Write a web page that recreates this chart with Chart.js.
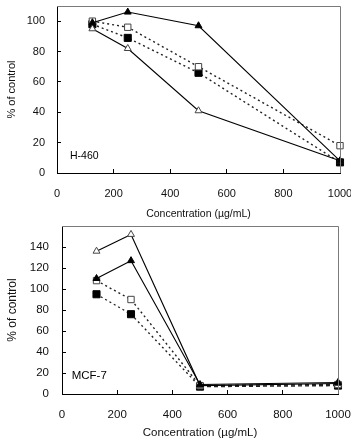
<!DOCTYPE html>
<html>
<head>
<meta charset="utf-8">
<script src="https://cdn.jsdelivr.net/npm/chart.js@4"></script>
<style>
  html, body { margin: 0; padding: 0; background: #fff; }
  .box { position: absolute; left: 0; width: 351px; }
  #top { top: 0; height: 220px; }
  #bot { top: 220px; height: 223px; }
</style>
</head>
<body>
<div class="box" id="top"><canvas id="h460"></canvas></div>
<div class="box" id="bot"><canvas id="mcf7"></canvas></div>
<script>
// concentrations (µg/mL)
const conc = [125, 250, 500, 1000];

// H-460 (% of control)
const h460FilledTri = [99, 106, 97, 8];
const h460OpenTri   = [95, 82, 41, 8];
const h460OpenSq    = [100, 96, 70, 18];
const h460FilledSq  = [98, 89, 66, 7];

// MCF-7 (% of control)
const mcfFilledTri = [110, 127, 9, 11];
const mcfOpenTri   = [136, 152, 8, 10];
const mcfOpenSq    = [108, 90, 8, 9];
const mcfFilledSq  = [95, 76, 7, 8];

const FONT = "'Liberation Sans', Arial, sans-serif";

// grey frame on top / right of plot area
const framePlugin = {
  id: 'frame',
  afterDraw(chart) {
    const { ctx, chartArea: a } = chart;
    ctx.save();
    ctx.strokeStyle = '#7a7a7a';
    ctx.lineWidth = 1;
    ctx.beginPath();
    ctx.moveTo(a.left, a.top + 0.5);
    ctx.lineTo(a.right + 0.5, a.top + 0.5);
    ctx.lineTo(a.right + 0.5, a.bottom);
    ctx.stroke();
    ctx.restore();
  }
};

// cell line label inside the plot
const tagPlugin = {
  id: 'tag',
  afterDraw(chart, args, opts) {
    const { ctx, scales } = chart;
    ctx.save();
    ctx.font = opts.size + 'px ' + FONT;
    ctx.fillStyle = '#000';
    ctx.textBaseline = 'middle';
    ctx.fillText(opts.text, scales.x.getPixelForValue(opts.x), scales.y.getPixelForValue(opts.y));
    ctx.restore();
  }
};

function ds(data, style, filled, dotted, r, tailDash) {
  const d = {
    data: conc.map((c, i) => ({ x: c, y: data[i] })),
    borderColor: dotted ? '#222' : '#000',
    borderWidth: dotted ? 1.4 : 1.1,
    borderDash: dotted ? [2, 3] : [],
    pointStyle: style,
    pointRadius: r,
    pointBackgroundColor: filled ? '#000' : '#fff',
    pointBorderColor: filled ? '#000' : '#444',
    pointBorderWidth: 1,
    clip: false,
    tension: 0
  };
  // last segment drawn dashed instead of dotted
  if (tailDash) d.segment = { borderDash: c => c.p0.parsed.x >= 500 ? [4, 3] : undefined };
  return d;
}

function noPad(s) {
  s.paddingTop = 0; s.paddingBottom = 0;
  s.paddingLeft = 0; s.paddingRight = 0;
}

function makeChart(id, sets, o) {
  return new Chart(document.getElementById(id), {
    type: 'line',
    data: { datasets: sets },
    plugins: [framePlugin, tagPlugin],
    options: {
      responsive: true,
      maintainAspectRatio: false,
      animation: false,
      layout: { padding: { left: 0, top: 6, right: o.right, bottom: 0 } },
      plugins: {
        legend: { display: false },
        tooltip: { enabled: false },
        tag: o.tag
      },
      scales: {
        x: {
          type: 'linear',
          min: 0, max: 1000,
          ticks: {
            stepSize: 200, color: '#111', padding: 18,
            font: { family: FONT, size: o.tick },
            callback: v => String(v)
          },
          grid: { drawOnChartArea: false, tickLength: -4, color: '#000' },
          border: { color: '#000' },
          title: { display: true, text: 'Concentration (µg/mL)', color: '#111', padding: o.xPad, font: { family: FONT, size: o.title } },
          afterFit: s => { s.height = o.xH; noPad(s); }
        },
        y: {
          min: 0, max: o.ymax,
          ticks: {
            stepSize: 10, color: '#111', padding: o.yPad,
            font: { family: FONT, size: o.tick },
            callback: v => (v % 20 === 0 && v <= o.ylab) ? String(v) : ''
          },
          grid: { drawOnChartArea: false, tickLength: -4, color: '#000' },
          border: { color: '#000' },
          title: { display: true, text: '% of control', color: '#111', padding: { top: 5, bottom: 0 }, font: { family: FONT, size: o.ytitle } },
          afterFit: s => { s.width = o.yW; noPad(s); }
        }
      }
    }
  });
}

makeChart('h460', [
  ds(h460FilledTri, 'triangle', true, false, 4),
  ds(h460OpenTri, 'triangle', false, false, 4),
  ds(h460OpenSq, 'rect', false, true, 4.5),
  ds(h460FilledSq, 'rect', true, true, 5)
], { right: 11, xH: 47, yW: 57, ymax: 110, ylab: 100, tick: 11, title: 10.5, ytitle: 11,
     xPad: 0, yPad: 16, tag: { text: 'H-460', x: 46, y: 11, size: 10.5 } });

makeChart('mcf7', [
  ds(mcfFilledTri, 'triangle', true, false, 4),
  ds(mcfOpenTri, 'triangle', false, false, 4),
  ds(mcfOpenSq, 'rect', false, true, 4.5, true),
  ds(mcfFilledSq, 'rect', true, true, 5, true)
], { right: 13, xH: 49, yW: 62, ymax: 160, ylab: 140, tick: 11.5, title: 11.5, ytitle: 12,
     xPad: 3, yPad: 17, tag: { text: 'MCF-7', x: 35, y: 17, size: 11.5 } });
</script>
</body>
</html>
